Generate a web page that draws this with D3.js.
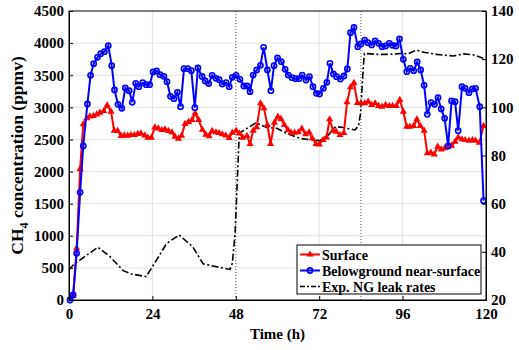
<!DOCTYPE html>
<html>
<head>
<meta charset="utf-8">
<script src="https://cdn.jsdelivr.net/npm/d3@7"></script>
<style>
  body { margin: 0; background: #fff; }
  svg text { font-family: "Liberation Serif", "Times New Roman", serif; font-weight: bold; }
</style>
</head>
<body>
<div id="chart"></div>
<script>

// surface CH4 (ppmv)
var surf_h = [1.2, 2.2, 3.2, 4.1, 5.1, 6.0, 7.0, 8.0, 8.9, 10.0, 11.0, 12.1, 13.0, 14.0, 15.0, 15.9, 16.9, 17.8, 18.8, 19.8,
  20.7, 21.8, 22.7, 23.7, 24.7, 25.7, 26.7, 27.6, 28.6, 29.6, 30.5, 31.5, 32.4, 33.4, 34.4, 35.4, 36.3, 37.3, 38.4, 39.4,
  40.3, 41.2, 42.3, 43.2, 44.1, 45.1, 46.1, 47.0, 48.1, 49.0, 50.0, 51.2, 52.1, 53.0, 54.0, 55.1, 56.1, 57.1, 58.0, 59.1,
  60.1, 61.0, 62.0, 63.0, 63.9, 64.9, 66.0, 67.0, 68.1, 69.1, 70.0, 71.1, 72.0, 73.1, 74.1, 75.0, 76.0, 76.9, 78.0, 79.1,
  80.0, 81.0, 82.0, 83.0, 84.0, 85.1, 86.1, 87.1, 88.1, 89.1, 90.1, 91.1, 92.2, 93.1, 94.2, 95.2, 96.2, 97.2, 98.1, 99.2,
  100.1, 101.1, 102.2, 103.1, 104.1, 105.1, 106.1, 107.1, 108.1, 109.1, 110.1, 111.1, 112.0, 113.1, 114.0, 115.1, 116.1, 117.0, 118.1, 119.3];
var surf_v = [67, 805, 2040, 2736, 2829, 2860, 2865, 2891, 2917, 2943, 3032, 2932, 2636, 2632, 2554, 2564, 2559, 2569, 2569, 2585,
  2595, 2564, 2528, 2528, 2689, 2673, 2647, 2658, 2632, 2611, 2543, 2512, 2559, 2741, 2772, 2803, 2907, 2803, 2650, 2575,
  2550, 2632, 2611, 2600, 2580, 2564, 2523, 2606, 2636, 2595, 2528, 2554, 2429, 2636, 2689, 3063, 2985, 2725, 2429, 2761,
  2855, 2819, 2725, 2647, 2606, 2606, 2611, 2668, 2580, 2611, 2518, 2429, 2424, 2491, 2533, 2814, 2636, 2621, 2569, 2600,
  3080, 3312, 3380, 3068, 3063, 3063, 3088, 3037, 3063, 3021, 3011, 3037, 3021, 3021, 3021, 3115, 2932, 2699, 2699, 2710,
  2814, 2710, 2636, 2284, 2294, 2268, 2387, 2346, 2362, 2387, 2403, 2465, 2533, 2502, 2491, 2481, 2491, 2481, 2450, 2710];

// belowground near-surface CH4 (ppmv)
var below_h = [0.3, 1.2, 2.2, 3.2, 4.1, 5.3, 6.2, 7.1, 8.2, 9.1, 10.2, 11.3, 12.3, 13.1, 14.1, 15.2, 16.2, 17.3, 18.2, 19.2,
  20.1, 21.2, 22.2, 23.2, 24.2, 25.2, 26.2, 27.3, 28.2, 29.2, 30.2, 31.2, 32.1, 33.1, 34.2, 35.2, 36.2, 37.1, 38.3, 39.2,
  40.2, 41.2, 42.3, 43.2, 44.1, 45.2, 46.1, 47.0, 48.1, 49.2, 50.3, 51.2, 52.1, 53.0, 54.0, 55.1, 56.0, 57.1, 58.1, 59.0,
  60.0, 61.1, 62.2, 63.1, 64.2, 65.2, 66.2, 67.1, 68.2, 69.2, 70.2, 71.2, 72.1, 73.2, 74.2, 75.1, 76.1, 77.0, 78.1, 79.1,
  80.1, 81.0, 82.0, 83.1, 84.0, 85.1, 86.0, 87.1, 88.1, 89.1, 90.1, 91.1, 92.2, 93.1, 94.1, 95.1, 96.2, 97.2, 98.2, 99.2,
  100.2, 101.2, 102.2, 103.1, 104.2, 105.2, 106.2, 107.1, 108.1, 109.1, 110.1, 111.1, 112.0, 113.1, 114.0, 115.1, 116.1, 117.0, 118.2, 119.3];
var below_v = [0, 78, 727, 1677, 2398, 3052, 3499, 3680, 3779, 3835, 3866, 3960, 3649, 3270, 3047, 2985, 3301, 3259, 3078, 3374,
  3321, 3384, 3353, 3353, 3550, 3566, 3508, 3483, 3400, 3172, 3135, 3234, 3010, 3602, 3602, 3571, 2995, 3613, 3480, 3410,
  3370, 3499, 3452, 3430, 3363, 3384, 3321, 3468, 3499, 3436, 3332, 3332, 3244, 3503, 3581, 3654, 3934, 3581, 3259, 3649,
  3768, 3711, 3592, 3503, 3462, 3447, 3447, 3503, 3425, 3478, 3321, 3218, 3208, 3296, 3389, 3685, 3519, 3478, 3441, 3488,
  3597, 4162, 4243, 3944, 3986, 4048, 4007, 3971, 4033, 3997, 3944, 3955, 3997, 3966, 3955, 4064, 3748, 3555, 3607, 3571,
  3706, 3581, 3343, 2891, 3073, 3047, 3150, 2974, 2829, 2398, 3099, 3088, 2636, 3321, 3296, 3228, 3286, 3296, 3010, 1546];

// experimental NG leak rates (right axis)
var leak_h = [0, 1.2, 4.0, 8.3, 11.8, 15.6, 18.0, 22.2, 25.2, 28.1, 31.7, 35.6, 38.6, 42.5, 46.3, 47.0, 47.8, 48.4, 49.0, 49.7,
  53.8, 56.9, 59.8, 62.6, 66.5, 70.3, 72.2, 74.6, 76.8, 78.9, 82.3, 83.3, 83.9, 84.7, 85.0, 88.5, 92.4, 95.7, 97.6, 100.0,
  102.0, 105.8, 110.6, 113.5, 116.3, 119.2];
var leak_v = [32.5, 34.5, 37.5, 41.9, 38.0, 32.2, 30.8, 29.7, 36.6, 43.5, 47.0, 42.1, 35.0, 33.8, 32.7, 35.2, 47.7, 68.4, 89.2, 89.9,
  93.6, 91.6, 91.3, 89.2, 87.1, 86.4, 86.2, 88.5, 92.0, 91.6, 90.6, 92.3, 97.5, 116.9, 122.4, 122.0, 122.0, 122.4, 122.2, 123.8,
  122.9, 122.0, 121.3, 122.2, 121.8, 120.4];

var x_ticks = [0, 24, 48, 72, 96, 120];
var yl_ticks = [0, 500, 1000, 1500, 2000, 2500, 3000, 3500, 4000, 4500];
var yr_ticks = [20, 40, 60, 80, 100, 120, 140];
var event_h = [48, 84];

var W = 519, H = 350;
var margin = {top: 11, bottom: 50, left: 69, right: 33};
var serif = '"Liberation Serif", "Times New Roman", serif';

var svg = d3.select("#chart").append("svg")
  .attr("width", W)
  .attr("height", H);

var x = d3.scaleLinear().domain([0, 120]).range([margin.left, W - margin.right]);
var yl = d3.scaleLinear().domain([0, 4500]).range([H - margin.bottom, margin.top]);
var yr = d3.scaleLinear().domain([20, 140]).range([H - margin.bottom, margin.top]);

// grid
svg.append("g").selectAll("line")
  .data(yl_ticks.slice(1, -1))
  .enter().append("line")
    .attr("x1", x(0)).attr("x2", x(120))
    .attr("y1", d => yl(d)).attr("y2", d => yl(d))
    .attr("stroke", "#e2e2e2").attr("stroke-width", 1);
svg.append("g").selectAll("line")
  .data([24, 72, 96])
  .enter().append("line")
    .attr("x1", d => x(d)).attr("x2", d => x(d))
    .attr("y1", yl(0)).attr("y2", yl(4500))
    .attr("stroke", "#e2e2e2").attr("stroke-width", 1);

// event markers
svg.append("g").selectAll("line")
  .data(event_h)
  .enter().append("line")
    .attr("x1", d => x(d)).attr("x2", d => x(d))
    .attr("y1", yl(0)).attr("y2", yl(4500))
    .attr("stroke", "#555").attr("stroke-width", 1)
    .attr("stroke-dasharray", "1,2");

// leak rate line
var leak = leak_h.map((h, i) => [h, leak_v[i]]);
svg.append("path")
  .datum(leak)
  .attr("fill", "none")
  .attr("stroke", "black")
  .attr("stroke-width", 1.6)
  .attr("stroke-dasharray", "7,2.5,2,2.5")
  .attr("d", d3.line().x(d => x(d[0])).y(d => yr(d[1])));

// surface
var surf = surf_h.map((h, i) => [h, surf_v[i]]);
var line_l = d3.line().x(d => x(d[0])).y(d => yl(d[1]));
svg.append("path")
  .datum(surf)
  .attr("fill", "none")
  .attr("stroke", "#ff0000")
  .attr("stroke-width", 2)
  .attr("d", line_l);
var tri = d3.symbol().type(d3.symbolTriangle).size(22);
svg.append("g").selectAll("path")
  .data(surf)
  .enter().append("path")
    .attr("d", tri)
    .attr("transform", d => "translate(" + x(d[0]) + "," + yl(d[1]) + ")")
    .attr("fill", "#ff0000");

// belowground
var below = below_h.map((h, i) => [h, below_v[i]]);
svg.append("path")
  .datum(below)
  .attr("fill", "none")
  .attr("stroke", "#0000ff")
  .attr("stroke-width", 2)
  .attr("d", line_l);
svg.append("g").selectAll("circle")
  .data(below)
  .enter().append("circle")
    .attr("cx", d => x(d[0]))
    .attr("cy", d => yl(d[1]))
    .attr("r", 2.6)
    .attr("fill", "none")
    .attr("stroke", "#0000ff")
    .attr("stroke-width", 1.6);

// frame + axes
svg.append("rect")
  .attr("x", x(0)).attr("y", yl(4500))
  .attr("width", x(120) - x(0)).attr("height", yl(0) - yl(4500))
  .attr("fill", "none").attr("stroke", "black").attr("stroke-width", 1);

var ax_b = svg.append("g")
  .attr("transform", "translate(0," + yl(0) + ")")
  .call(d3.axisBottom(x).tickValues(x_ticks).tickSizeInner(-4).tickSizeOuter(0).tickPadding(8));
var ax_l = svg.append("g")
  .attr("transform", "translate(" + x(0) + ",0)")
  .call(d3.axisLeft(yl).tickValues(yl_ticks).tickFormat(d3.format("d")).tickSizeInner(-4).tickSizeOuter(0).tickPadding(5));
var ax_r = svg.append("g")
  .attr("transform", "translate(" + x(120) + ",0)")
  .call(d3.axisRight(yr).tickValues(yr_ticks).tickSizeInner(-4).tickSizeOuter(0).tickPadding(5));

[ax_b, ax_l, ax_r].forEach(function(a) {
  a.attr("font-family", serif).attr("font-weight", "bold");
  a.selectAll("text")
    .style("font-family", serif)
    .style("font-weight", "bold")
    .style("font-size", "15px")
    .attr("fill", "black");
  a.selectAll("line").attr("stroke", "black");
  a.select(".domain").attr("stroke", "black");
});

// axis titles
svg.append("text")
  .attr("x", (x(0) + x(120)) / 2)
  .attr("y", 339)
  .attr("text-anchor", "middle")
  .style("font-size", "15px")
  .text("Time (h)");

var ylab = svg.append("text")
  .attr("transform", "translate(23," + ((yl(0) + yl(4500)) / 2) + ") rotate(-90)")
  .attr("text-anchor", "middle")
  .style("font-size", "17.5px");
ylab.append("tspan").text("CH");
ylab.append("tspan").attr("dy", 5).style("font-size", "12px").text("4");
ylab.append("tspan").attr("dy", -5).text(" concentration (ppmv)");

// legend
var leg = svg.append("g").attr("transform", "translate(297,245)");
leg.append("rect")
  .attr("width", 184).attr("height", 49)
  .attr("fill", "white").attr("stroke", "black").attr("stroke-width", 1);

var leg_items = [
  {label: "Surface", color: "#ff0000", mark: "tri"},
  {label: "Belowground near-surface", color: "#0000ff", mark: "circ"},
  {label: "Exp. NG leak rates", color: "black", mark: "dash"}
];
leg_items.forEach(function(d, i) {
  var cy = 9.5 + i * 16;
  var g = leg.append("g");
  g.append("line")
    .attr("x1", 3).attr("x2", 23).attr("y1", cy).attr("y2", cy)
    .attr("stroke", d.color)
    .attr("stroke-width", d.mark == "dash" ? 1.6 : 2)
    .attr("stroke-dasharray", d.mark == "dash" ? "5,2,2,2" : null);
  if (d.mark == "tri") {
    g.append("path").attr("d", tri).attr("fill", d.color)
      .attr("transform", "translate(13," + cy + ")");
  } else if (d.mark == "circ") {
    g.append("circle").attr("cx", 13).attr("cy", cy).attr("r", 2.6)
      .attr("fill", "none").attr("stroke", d.color).attr("stroke-width", 1.6);
  }
  g.append("text")
    .attr("x", 25).attr("y", cy + 5)
    .style("font-size", "14px")
    .text(d.label);
});

</script>
</body>
</html>
